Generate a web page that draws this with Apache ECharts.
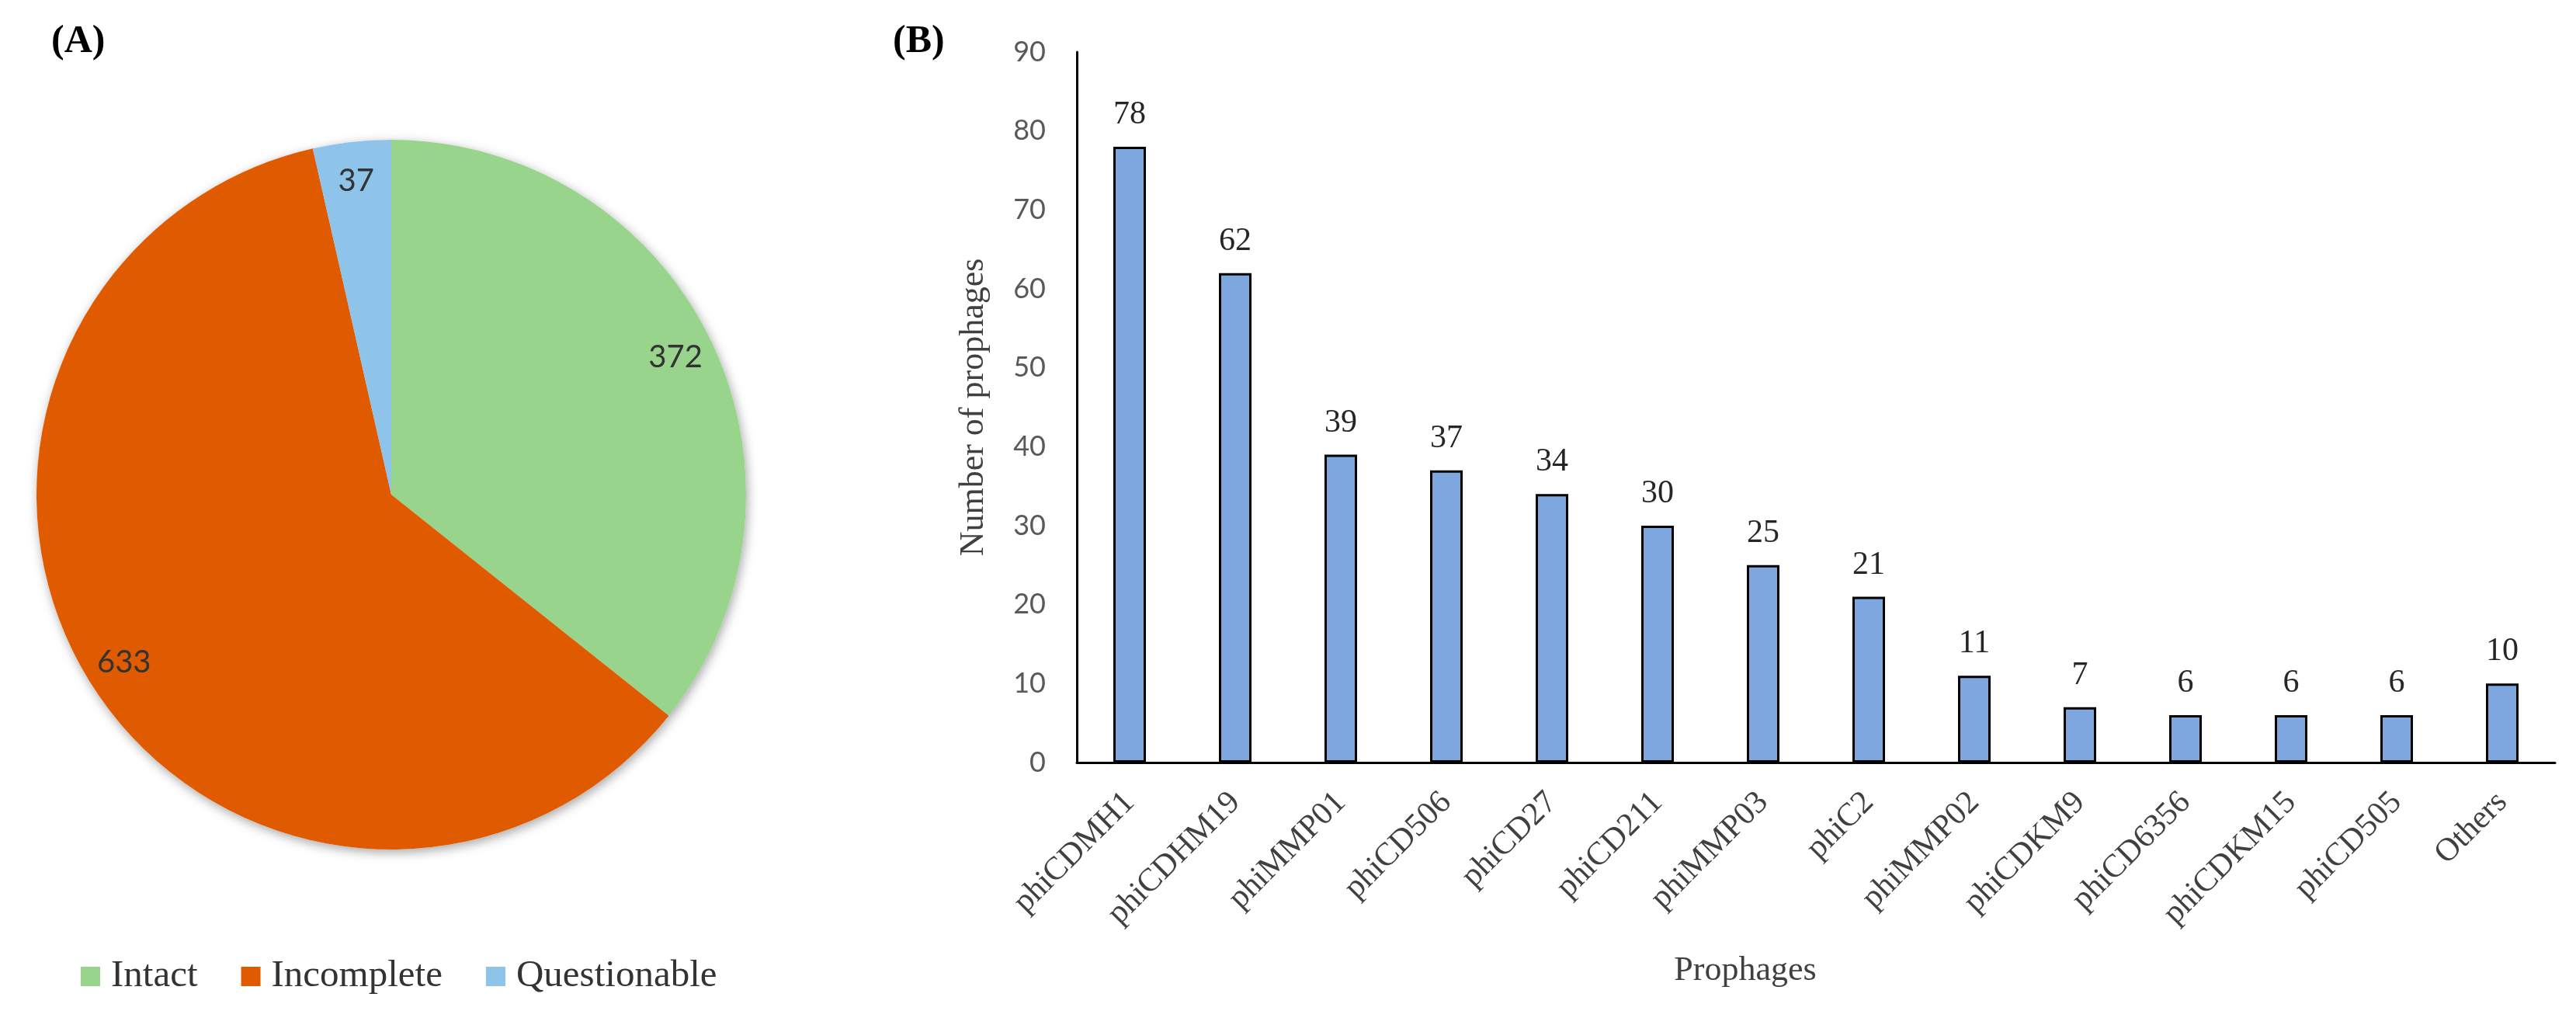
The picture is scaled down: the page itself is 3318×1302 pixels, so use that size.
<!DOCTYPE html>
<html>
<head>
<meta charset="utf-8">
<script src="https://cdn.jsdelivr.net/npm/echarts@6/dist/echarts.min.js"></script>
<style>
  html, body { margin: 0; padding: 0; background: #fff; }
  #main { width: 3318px; height: 1302px; }
</style>
</head>
<body>
<div id="main"></div>
<script>
// panel A
const pieNames = ['Intact', 'Incomplete', 'Questionable'];
const pieValues = [372, 633, 37];
const pieColors = ['#98D48B', '#E05B00', '#8EC3EA'];

// panel B
const prophages = ['phiCDMH1', 'phiCDHM19', 'phiMMP01', 'phiCD506', 'phiCD27', 'phiCD211',
  'phiMMP03', 'phiC2', 'phiMMP02', 'phiCDKM9', 'phiCD6356', 'phiCDKM15', 'phiCD505', 'Others'];
const counts = [78, 62, 39, 37, 34, 30, 25, 21, 11, 7, 6, 6, 6, 10];

const serif = '"Liberation Serif", "Times New Roman", serif';
const sans = 'Lato, "Noto Sans", sans-serif';

const pieData = pieNames.map((n, i) => ({ name: n, value: pieValues[i], itemStyle: { color: pieColors[i] } }));
const plainData = pieNames.map((n, i) => ({ name: n, value: pieValues[i] }));

const myChart = echarts.init(document.getElementById('main'));
const option = {
  animation: false,
  title: [
    { text: '(A)', left: 61, top: 24, textStyle: { fontFamily: serif, fontSize: 50, fontWeight: 'bold', color: '#000' } },
    { text: '(B)', left: 1145, top: 24, textStyle: { fontFamily: serif, fontSize: 50, fontWeight: 'bold', color: '#000' } }
  ],
  legend: {
    data: pieNames,
    left: 99,
    top: 1228,
    icon: 'rect',
    itemWidth: 25,
    itemHeight: 25,
    itemGap: 56,
    textStyle: { fontFamily: serif, fontSize: 49, color: '#333', padding: [0, 0, 0, 9] }
  },
  grid: { left: 1387, top: 67, width: 1904, bottom: 320, containLabel: false },
  xAxis: {
    type: 'category',
    data: prophages,
    name: 'Prophages',
    nameLocation: 'middle',
    nameGap: 246,
    nameTextStyle: { fontFamily: serif, fontSize: 44, color: '#404040', padding: [0, 182, 0, 0] },
    axisLine: { lineStyle: { color: '#000', width: 3 } },
    axisTick: { show: false },
    axisLabel: { rotate: 45, margin: 45, fontFamily: serif, fontSize: 42, color: '#404040', interval: 0 }
  },
  yAxis: {
    type: 'value',
    min: 0,
    max: 90,
    interval: 10,
    name: 'Number of prophages',
    nameLocation: 'middle',
    nameGap: 111,
    nameTextStyle: { fontFamily: serif, fontSize: 44, color: '#404040' },
    axisLine: { show: true, lineStyle: { color: '#000', width: 3 } },
    axisTick: { show: false },
    splitLine: { show: false },
    axisLabel: { margin: 40, fontFamily: sans, fontSize: 36, color: '#595959' }
  },
  series: [
    {
      type: 'pie',
      center: [504, 637],
      radius: 457,
      startAngle: 90,
      silent: true,
      z: 3,
      data: pieData,
      label: { show: false },
      labelLine: { show: false }
    },
    {
      // white copy underneath, only for the soft shadow round the rim
      type: 'pie',
      center: [504, 637],
      radius: 457,
      startAngle: 90,
      silent: true,
      z: 1,
      data: plainData,
      itemStyle: { color: '#fff', shadowBlur: 14, shadowColor: 'rgba(0,0,0,0.35)', shadowOffsetX: 2, shadowOffsetY: 4 },
      label: { show: false },
      labelLine: { show: false }
    },
    {
      // transparent ring only used to place the value labels near the rim
      type: 'pie',
      center: [504, 637],
      radius: [350, 457],
      startAngle: 90,
      silent: true,
      z: 4,
      data: plainData,
      itemStyle: { color: 'rgba(0,0,0,0)' },
      label: {
        show: true,
        position: 'inside',
        formatter: '{c}',
        fontFamily: sans,
        fontSize: 40,
        color: '#333'
      },
      labelLine: { show: false }
    },
    {
      type: 'bar',
      data: counts,
      barWidth: 42,
      itemStyle: { color: '#7DA7DE', borderColor: '#000', borderWidth: 3 },
      label: {
        show: true,
        position: 'top',
        distance: 20,
        fontFamily: serif,
        fontSize: 42,
        color: '#262626'
      }
    }
  ]
};
myChart.setOption(option);
</script>
</body>
</html>
